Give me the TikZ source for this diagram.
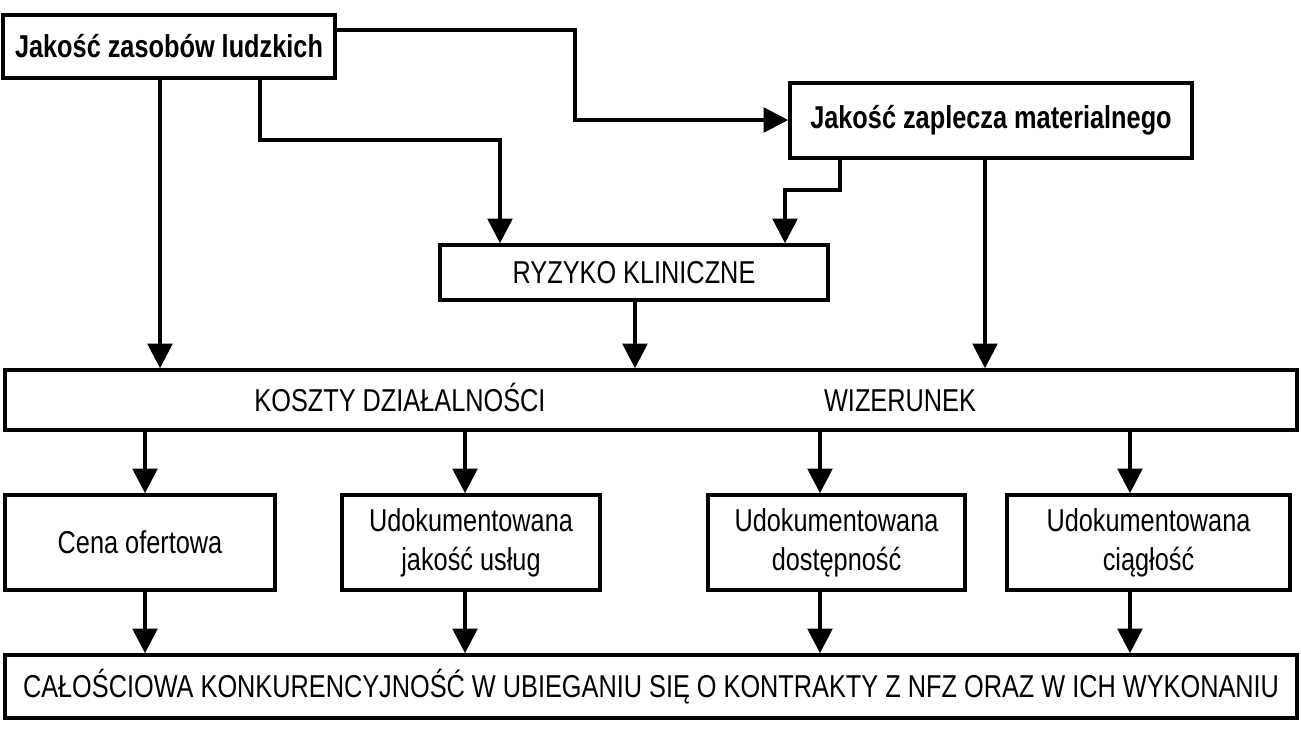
\documentclass[tikz,border=0pt]{standalone}
\usepackage{fontspec}
\setmainfont[FakeStretch=0.8]{Liberation Sans}
\usetikzlibrary{arrows.meta}
\tikzset{
  box/.style={draw, line width=1pt, inner sep=2pt, align=center, font=\fontsize{9}{11}\selectfont},
  arr/.style={line width=1pt, -{Triangle[width=7pt,length=7pt]}}
}
\begin{document}
\begin{tikzpicture}
\useasboundingbox (0,0) rectangle (13.01,-7.35);
\node[box, minimum width=3.32cm, minimum height=0.63cm, font=\bfseries\fontsize{9}{11}\selectfont] (zasoby) at (1.69,-0.465) {Jakość zasobów ludzkich};
\node[box, minimum width=4.02cm, minimum height=0.75cm, font=\bfseries\fontsize{9}{11}\selectfont] (zaplecze) at (9.91,-1.205) {Jakość zaplecza materialnego};
\node[box, minimum width=3.88cm, minimum height=0.55cm] (ryzyko) at (6.34,-2.725) {RYZYKO KLINICZNE};
\node[box, minimum width=12.92cm, minimum height=0.6cm] (srodek) at (6.51,-4.0) {};
\node[anchor=base, font=\fontsize{9}{11}\selectfont] (koszty) at (4.0,-4.11) {KOSZTY DZIAŁALNOŚCI};
\node[anchor=base, font=\fontsize{9}{11}\selectfont] (wizerunek) at (9.0,-4.11) {WIZERUNEK};
\node[box, minimum width=2.70cm, minimum height=0.95cm] (cena) at (1.40,-5.425) {Cena ofertowa};
\node[box, minimum width=2.58cm, minimum height=0.95cm] (jakosc) at (4.71,-5.425) {Udokumentowana\\jakość usług};
\node[box, minimum width=2.57cm, minimum height=0.95cm] (dostep) at (8.365,-5.425) {Udokumentowana\\dostępność};
\node[box, minimum width=2.83cm, minimum height=0.95cm] (ciaglosc) at (11.485,-5.425) {Udokumentowana\\ciągłość};
\node[box, minimum width=12.92cm, minimum height=0.63cm] (calosc) at (6.51,-6.865) {CAŁOŚCIOWA KONKURENCYJNOŚĆ W UBIEGANIU SIĘ O KONTRAKTY Z NFZ ORAZ W ICH WYKONANIU};
% connectors
\draw[arr] (zasoby.south -| 1.6,0) -- (srodek.north -| 1.6,0);
\draw[arr] (zasoby.south -| 2.6,0) |- (5.0,-1.4) -- (ryzyko.north -| 5.0,0);
\draw[arr] (zasoby.east |- 0,-0.3) -| (5.75,-1.2) -- (zaplecze.west |- 0,-1.2);
\draw[arr] (zaplecze.south -| 8.4,0) |- (7.85,-1.9) -- (ryzyko.north -| 7.85,0);
\draw[arr] (zaplecze.south -| 9.85,0) -- (srodek.north -| 9.85,0);
\draw[arr] (ryzyko.south -| 6.35,0) -- (srodek.north -| 6.35,0);
\foreach \n/\x in {cena/1.45, jakosc/4.65, dostep/8.2, ciaglosc/11.3} {
  \draw[arr] (srodek.south -| \x,0) -- (\n.north -| \x,0);
  \draw[arr] (\n.south -| \x,0) -- (calosc.north -| \x,0);
}
\end{tikzpicture}
\end{document}
